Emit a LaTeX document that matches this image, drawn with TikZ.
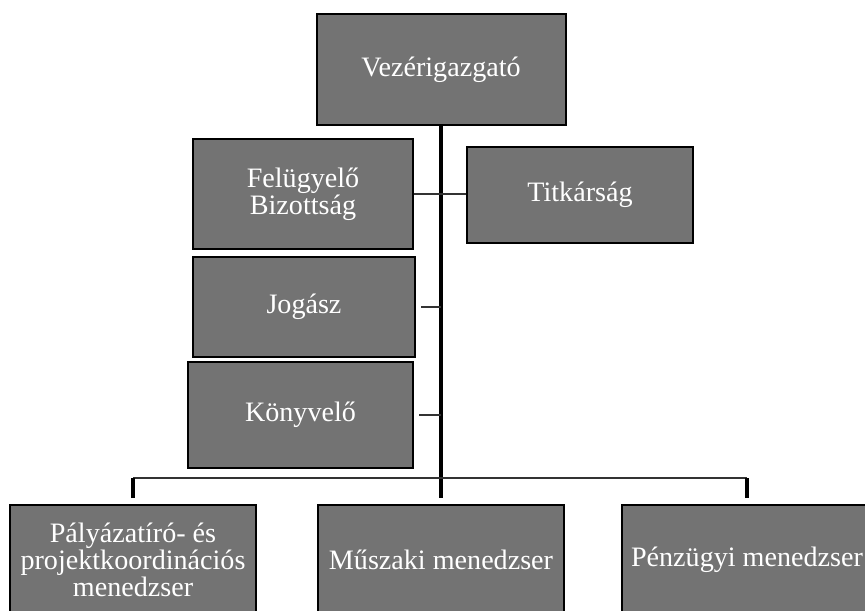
\documentclass[tikz,border=0pt]{standalone}
\usepackage{fontspec}
\setmainfont{Liberation Serif}
\newlength\px
\setlength\px{0.03cm}
\tikzset{
  orgbox/.style={draw=black, line width=2\px, fill=black!55, text=white,
    align=center, inner sep=0pt, font=\fontsize{24}{21}\selectfont},
  link/.style={draw=black!80, line width=2.5\px},
  trunk/.style={draw=black, line width=4\px}
}

\begin{document}
\begin{tikzpicture}[x=1\px, y=-1\px]

    \clip (0,0) rectangle (865,610);

    % Top of the chart
    \node[orgbox, minimum width=249\px, minimum height=111\px] (boss) at (441,69.5) {Vezérigazgató};

    % Staff units beside the trunk
    \node[orgbox, minimum width=220\px, minimum height=110\px] (fel) at (303,194) {Felügyelő\\Bizottság};
    \node[orgbox, minimum width=226\px, minimum height=96\px] (tit) at (580,195) {Titkárság};
    \node[orgbox, minimum width=222\px, minimum height=100\px] (jog) at (304,307) {Jogász};
    \node[orgbox, minimum width=225\px, minimum height=106\px] (kon) at (300.5,415) {Könyvelő};

    % Managers at the bottom
    \node[orgbox, minimum width=246\px, minimum height=110\px] (pal) at (133,560) {Pályázatíró- és\\projektkoordinációs\\menedzser};
    \node[orgbox, minimum width=246\px, minimum height=110\px] (mus) at (441,560) {Műszaki menedzser};
    \node[orgbox, minimum width=250\px, minimum height=110\px] (pen) at (747,560) {Pénzügyi menedzser};

    % Trunk line and bus
    \coordinate (bus) at (441,478);
    \draw[trunk, shorten >=6\px] (boss.south) -- (mus.north);
    \draw[link] (pal.north |- bus) -- (pen.north |- bus);
    \draw[trunk, shorten <=6\px] (pal.north) -- (pal.north |- bus);
    \draw[trunk, shorten <=6\px] (pen.north) -- (pen.north |- bus);

    % Side links
    \draw[link] (fel.east) -- (fel.east -| tit.west);
    \draw[link, shorten <=5\px] (jog.east) -- (jog.east -| boss.south);
    \draw[link, shorten <=5\px] (kon.east) -- (kon.east -| boss.south);

\end{tikzpicture}
\end{document}
